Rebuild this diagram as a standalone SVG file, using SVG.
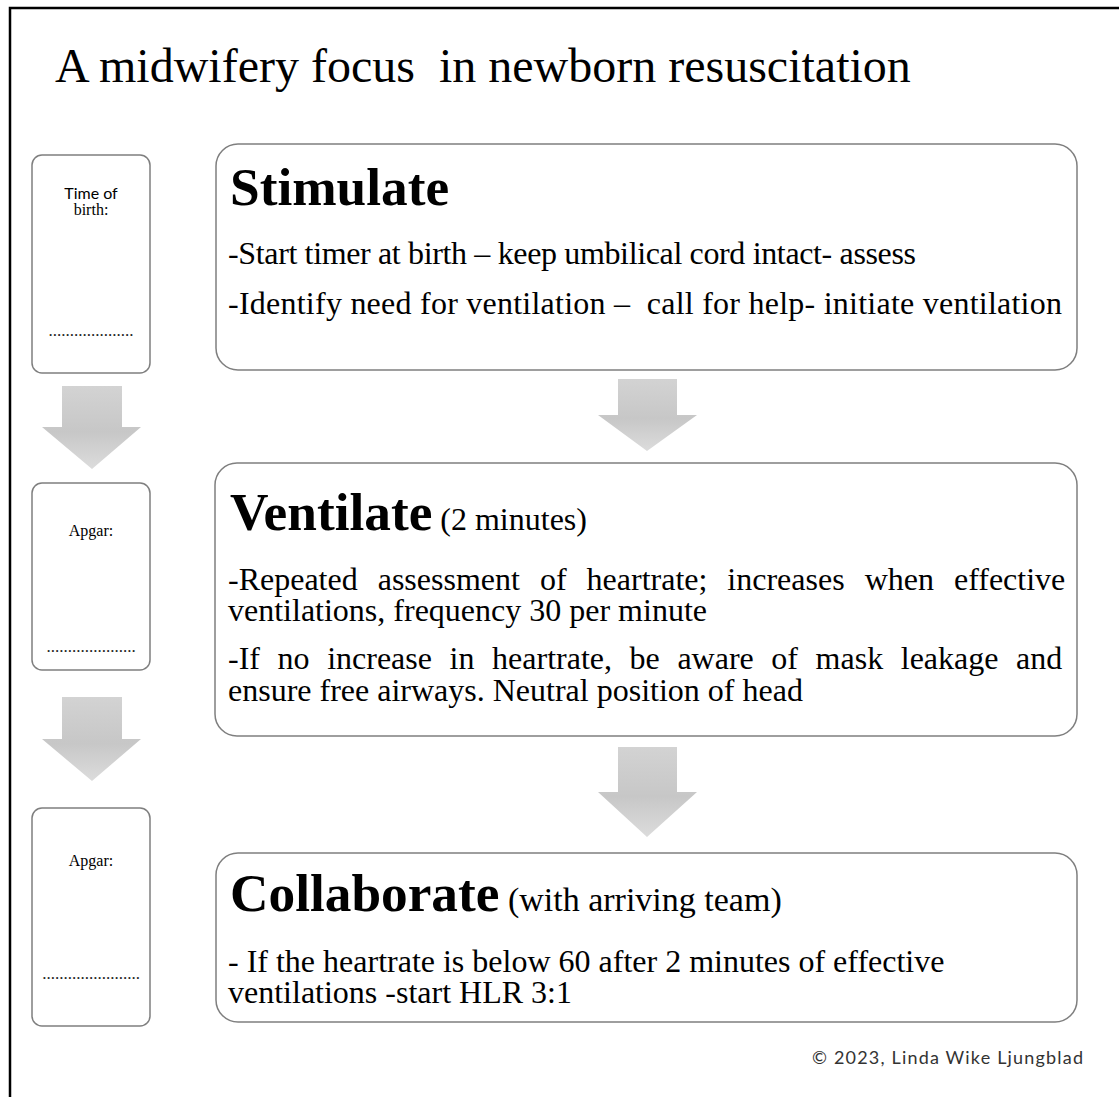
<svg xmlns="http://www.w3.org/2000/svg" width="1119" height="1097" viewBox="0 0 1119 1097">
<defs>
<linearGradient id="ag" x1="0" y1="0" x2="0" y2="1">
<stop offset="0" stop-color="#d3d3d3"/>
<stop offset="0.55" stop-color="#c7c7c7"/>
<stop offset="1" stop-color="#dcdcdc"/>
</linearGradient>
<style>
.box{fill:#fff;stroke:#7f7f7f;stroke-width:1.5}
.arr{fill:url(#ag);stroke:none}
.serif{font-family:"Liberation Serif","Times New Roman",serif;fill:#000}
.sans{font-family:Lato,"Liberation Sans",sans-serif;fill:#000}
.head{font-size:53.3px;font-weight:bold}
.body{font-size:32px}
.small{font-size:16px}
.dots{font-size:17px;fill:#222}
.pre{white-space:pre}
</style>
</defs>
<rect width="1119" height="1097" fill="#fff"/>
<g id="frame">
<path d="M10 1097 V8 H1119" fill="none" stroke="#000" stroke-width="2.5"/>
</g>
<g id="title">
<text class="serif pre" xml:space="preserve" x="55" y="82" font-size="48">A midwifery focus  in newborn resuscitation</text>
</g>
<g id="time-of-birth">
<rect class="box" x="32" y="155" width="118" height="218" rx="10"/>
<text class="sans small" x="91" y="199" text-anchor="middle">Time of</text>
<text class="serif small" x="91" y="215" text-anchor="middle">birth:</text>
<text class="serif dots" x="91" y="336" text-anchor="middle">....................</text>
</g>
<g id="apgar-1">
<rect class="box" x="32" y="483" width="118" height="187" rx="10"/>
<text class="serif small" x="91" y="536" text-anchor="middle">Apgar:</text>
<text class="serif dots" x="91" y="652" text-anchor="middle">.....................</text>
</g>
<g id="apgar-2">
<rect class="box" x="32" y="808" width="118" height="218" rx="10"/>
<text class="serif small" x="91" y="866" text-anchor="middle">Apgar:</text>
<text class="serif dots" x="91" y="979" text-anchor="middle">.......................</text>
</g>
<g id="stimulate">
<rect class="box" x="216" y="144" width="861" height="226" rx="22"/>
<text class="serif head" x="230" y="205">Stimulate</text>
<text class="serif body pre" xml:space="preserve" x="228" y="264" textLength="688" lengthAdjust="spacing">-Start timer at birth – keep umbilical cord intact- assess</text>
<text class="serif body pre" xml:space="preserve" x="228" y="314" textLength="834" lengthAdjust="spacing">-Identify need for ventilation –  call for help- initiate ventilation</text>
</g>
<g id="ventilate">
<rect class="box" x="215" y="463" width="862" height="273" rx="22"/>
<text class="serif" x="230" y="530"><tspan class="head">Ventilate</tspan><tspan class="body"> (2 minutes)</tspan></text>
<text class="serif body" x="228" y="590" word-spacing="12">-Repeated assessment of heartrate; increases when effective</text>
<text class="serif body" x="228" y="621">ventilations, frequency 30 per minute</text>
<text class="serif body" x="228" y="669" word-spacing="9.6">-If no increase in heartrate, be aware of mask leakage and</text>
<text class="serif body" x="228" y="701">ensure free airways. Neutral position of head</text>
</g>
<g id="collaborate">
<rect class="box" x="216" y="853" width="861" height="169" rx="22"/>
<text class="serif" x="230" y="911"><tspan class="head">Collaborate</tspan><tspan font-size="34"> (with arriving team)</tspan></text>
<text class="serif body" x="228" y="972">- If the heartrate is below 60 after 2 minutes of effective</text>
<text class="serif body" x="228" y="1003">ventilations -start HLR 3:1</text>
</g>
<g id="connectors">
<polygon class="arr" points="62,386 122,386 122,427 141,427 92,469 42,427 62,427"/>
<polygon class="arr" points="62,697 122,697 122,739 141,739 92,781 42,739 62,739"/>
<polygon class="arr" points="618,379 677,379 677,415 697,415 647,451 598,415 618,415"/>
<polygon class="arr" points="618,747 677,747 677,792 697,792 647,837 598,792 618,792"/>
</g>
<g id="copyright">
<text class="sans" x="812" y="1064" font-size="18" style="fill:#333" textLength="271">© 2023, Linda Wike Ljungblad</text>
</g>
</svg>
